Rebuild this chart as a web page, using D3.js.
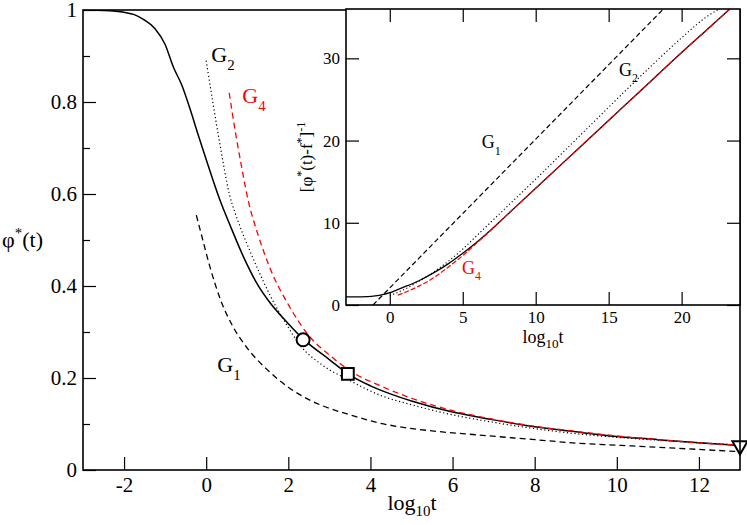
<!DOCTYPE html>
<html>
<head>
<meta charset="utf-8">
<script src="https://cdn.jsdelivr.net/npm/d3@7"></script>
<style>
  body { margin: 0; background: #fff; }
  svg { display: block; }
  svg text { font-family: "Liberation Serif", "Times New Roman", Times, "Nimbus Roman", "DejaVu Serif", serif; }
</style>
</head>
<body>
<svg id="chart" width="747" height="525"></svg>
<script>
var SERIF = '"Liberation Serif", "Times New Roman", Times, "Nimbus Roman", "DejaVu Serif", serif';

// main panel: phi*(t) vs log10 t
var mainXTicks = [-2, 0, 2, 4, 6, 8, 10, 12];
var mainXLabels = ['-2', '0', '2', '4', '6', '8', '10', '12'];
var mainYTicks = [0, 0.2, 0.4, 0.6, 0.8, 1];
var mainYLabels = ['0', '0.2', '0.4', '0.6', '0.8', '1'];
var mainYMinor = [0.1, 0.3, 0.5, 0.7, 0.9];

var phiMain = [[-3, 1.0], [-2.5, 0.999], [-2, 0.995], [-1.75, 0.99], [-1.5, 0.978],
  [-1.25, 0.96], [-1, 0.925], [-0.8, 0.876], [-0.6, 0.838], [-0.4, 0.787],
  [-0.2, 0.73], [0, 0.675], [0.33, 0.588], [0.6, 0.528], [0.9, 0.465],
  [1.22, 0.408], [1.5, 0.37], [2, 0.318], [2.36, 0.285], [3, 0.24],
  [3.45, 0.209], [4, 0.183], [4.5, 0.165], [5, 0.150], [6, 0.126],
  [7, 0.109], [8, 0.094], [9, 0.083], [10, 0.073], [11, 0.066],
  [12, 0.059], [13, 0.053]];
var g1Main = [[-0.24, 0.554], [-0.1, 0.506], [0.09, 0.442], [0.35, 0.37],
  [0.65, 0.312], [1.0, 0.265], [1.5, 0.217], [2, 0.18], [2.5, 0.153],
  [3, 0.134], [3.5, 0.12], [4.22, 0.102], [4.7, 0.094], [5.5, 0.085],
  [6.65, 0.076], [8, 0.066], [9.08, 0.058], [10, 0.054], [11.5, 0.047],
  [13, 0.040]];
var g2Main = [[0, 0.89], [0.17, 0.795], [0.37, 0.69], [0.45, 0.65], [0.57, 0.598],
  [0.7, 0.56], [0.8, 0.535], [1.0, 0.49], [1.3, 0.428], [1.6, 0.372],
  [2.0, 0.31], [2.28, 0.272], [2.8, 0.23], [3.49, 0.195], [4.22, 0.163],
  [5, 0.142], [6, 0.12], [6.65, 0.109], [8, 0.09], [9, 0.079], [10, 0.071],
  [11.5, 0.062], [13, 0.054]];
var g4Main = [[0.56, 0.82], [0.73, 0.725], [0.85, 0.665], [1.02, 0.587],
  [1.25, 0.515], [1.54, 0.442], [2.03, 0.355], [2.52, 0.29], [3.0, 0.25],
  [3.57, 0.212], [4.22, 0.184], [5, 0.156], [6, 0.129], [7, 0.110],
  [8, 0.095], [9, 0.084], [10, 0.074], [11, 0.066], [12, 0.059], [13, 0.054]];
var circlePt = [2.36, 0.283];
var squarePt = [3.45, 0.209];
var trianglePt = [13, 0.053];

// inset: [phi*(t)-f*]^-1 vs log10 t
var insXTicks = [0, 5, 10, 15, 20];
var insYTicks = [0, 10, 20, 30];

var invMain = [[-3, 1.0], [-2, 1.0], [-1.5, 1.02], [-1, 1.1], [-0.5, 1.25],
  [0, 1.5], [0.5, 1.85], [1, 2.2], [2, 2.95], [3, 3.9], [4, 5.0], [5, 6.3],
  [6, 7.7], [7, 9.25], [8, 10.9], [10, 14.2], [12, 17.5], [14, 20.8],
  [16, 24.1], [18, 27.4], [20, 30.7], [22, 33.9], [23.3, 36]];
var invG1 = [[-1.15, 0], [18.75, 36]];
var invG2 = [[0, 1.15], [1, 1.9], [2, 2.9], [3, 4.0], [4, 5.3], [5, 6.8],
  [6, 8.5], [7, 10.2], [8, 11.9], [10, 15.3], [12, 18.8], [14, 22.3],
  [16, 25.8], [18, 29.2], [20, 32.5], [22, 35.4], [22.6, 36]];
var invG4 = [[0.55, 1.2], [1, 1.5], [2, 2.3], [3, 3.3], [4, 4.6], [5, 6.0],
  [6, 7.6], [7, 9.2], [8, 10.9], [10, 14.2], [12, 17.5], [14, 20.8],
  [16, 24.1], [18, 27.4], [20, 30.7], [22, 33.9], [23.3, 36]];

var svg = d3.select('#chart');

var x = d3.scaleLinear().domain([-3, 13]).range([83, 740]);
var y = d3.scaleLinear().domain([0, 1]).range([470, 10]);
var ix = d3.scaleLinear().domain([-3, 24]).range([346, 740]);
var iy = d3.scaleLinear().domain([0, 36]).range([305, 9]);

function styleAxis(g, size) {
  g.attr('font-family', SERIF);
  g.select('.domain').remove();
  g.selectAll('.tick line').attr('stroke', '#000').attr('stroke-width', 1.2);
  g.selectAll('.tick text')
      .attr('fill', '#000')
      .attr('font-size', size)
      .attr('font-family', SERIF);
}

svg.append('clipPath').attr('id', 'clipMain')
    .append('rect').attr('x', 83).attr('y', 10).attr('width', 657).attr('height', 460);
svg.append('clipPath').attr('id', 'clipIns')
    .append('rect').attr('x', 346).attr('y', 9).attr('width', 394).attr('height', 296);

// main axes
svg.append('g').attr('transform', 'translate(0,470)')
    .call(d3.axisBottom(x).tickValues(mainXTicks).tickSize(-13).tickSizeOuter(0)
        .tickPadding(7).tickFormat(function(d, i) { return mainXLabels[i]; }))
    .call(styleAxis, 21);
svg.append('g').attr('transform', 'translate(83,0)')
    .call(d3.axisLeft(y).tickValues(mainYTicks).tickSize(-13).tickSizeOuter(0)
        .tickPadding(6).tickFormat(function(d, i) { return mainYLabels[i]; }))
    .call(styleAxis, 21);
svg.append('g').attr('transform', 'translate(83,0)')
    .call(d3.axisLeft(y).tickValues(mainYMinor).tickSize(-7).tickSizeOuter(0)
        .tickFormat(''))
    .call(styleAxis, 21);

var line = function(sx, sy) {
  return d3.line()
      .x(function(d) { return sx(d[0]); })
      .y(function(d) { return sy(d[1]); })
      .curve(d3.curveMonotoneX);
};
var mainLine = line(x, y);
var insLine = line(ix, iy);

var mainG = svg.append('g').attr('clip-path', 'url(#clipMain)');
mainG.append('path').datum(g1Main).attr('d', mainLine)
    .attr('fill', 'none').attr('stroke', '#000').attr('stroke-width', 1.3)
    .attr('stroke-dasharray', '6,4');
mainG.append('path').datum(g2Main).attr('d', mainLine)
    .attr('fill', 'none').attr('stroke', '#000').attr('stroke-width', 1.2)
    .attr('stroke-dasharray', '1.2,2.6');
mainG.append('path').datum(phiMain).attr('d', mainLine)
    .attr('fill', 'none').attr('stroke', '#000').attr('stroke-width', 1.5);
mainG.append('path').datum(g4Main).attr('d', mainLine)
    .attr('fill', 'none').attr('stroke', '#ff0000').attr('stroke-width', 1.3)
    .attr('stroke-dasharray', '6,4');

// markers
svg.append('circle')
    .attr('cx', x(circlePt[0])).attr('cy', y(circlePt[1])).attr('r', 6.5)
    .attr('fill', '#fff').attr('stroke', '#000').attr('stroke-width', 2);
svg.append('path')
    .attr('d', d3.symbol().type(d3.symbolSquare).size(140)())
    .attr('transform', 'translate(' + x(squarePt[0]) + ',' + y(squarePt[1]) + ')')
    .attr('fill', '#fff').attr('stroke', '#000').attr('stroke-width', 2);
svg.append('path')
    .attr('d', d3.symbol().type(d3.symbolTriangle).size(100)())
    .attr('transform', 'translate(' + x(trianglePt[0]) + ',' + y(trianglePt[1]) + ') rotate(180)')
    .attr('fill', '#fff').attr('stroke', '#000').attr('stroke-width', 2);

// main frame
svg.append('rect').attr('x', 83).attr('y', 10).attr('width', 657).attr('height', 460)
    .attr('fill', 'none').attr('stroke', '#000').attr('stroke-width', 1.6);

// labels for the main panel
function gLabel(px, py, sub, color, size, subSize) {
  var t = svg.append('text').attr('x', px).attr('y', py)
      .attr('fill', color).attr('font-size', size).attr('font-family', SERIF);
  t.append('tspan').text('G');
  t.append('tspan').attr('dy', size * 0.35).attr('font-size', subSize).text(sub);
}
gLabel(x(0.125), y(0.887), '2', '#000', 22, 15);
gLabel(x(0.88), y(0.798), '4', '#ff0000', 22, 15);
gLabel(x(0.27), y(0.213), '1', '#000', 22, 15);

var xl = svg.append('text').attr('x', 412).attr('y', 510)
    .attr('text-anchor', 'middle').attr('font-size', 22).attr('font-family', SERIF);
xl.append('tspan').text('log');
xl.append('tspan').attr('dy', 6).attr('font-size', 15).text('10');
xl.append('tspan').attr('dy', -6).text('t');

var yl = svg.append('text').attr('x', 2).attr('y', 247)
    .attr('font-size', 22).attr('font-family', SERIF);
yl.append('tspan').text('φ');
yl.append('tspan').attr('dy', -9).attr('font-size', 15).text('*');
yl.append('tspan').attr('dy', 9).text('(t)');

// inset
svg.append('rect').attr('x', 346).attr('y', 9).attr('width', 394).attr('height', 296)
    .attr('fill', '#fff');

svg.append('g').attr('transform', 'translate(0,305)')
    .call(d3.axisBottom(ix).tickValues(insXTicks).tickSize(-13).tickSizeOuter(0)
        .tickPadding(6).tickFormat(d3.format('d')))
    .call(styleAxis, 17);
svg.append('g').attr('transform', 'translate(0,9)')
    .call(d3.axisTop(ix).tickValues(insXTicks).tickSize(-13).tickSizeOuter(0)
        .tickFormat(''))
    .call(styleAxis, 17);
svg.append('g').attr('transform', 'translate(346,0)')
    .call(d3.axisLeft(iy).tickValues(insYTicks).tickSize(-13).tickSizeOuter(0)
        .tickPadding(6).tickFormat(d3.format('d')))
    .call(styleAxis, 17);
svg.append('g').attr('transform', 'translate(740,0)')
    .call(d3.axisRight(iy).tickValues(insYTicks).tickSize(-13).tickSizeOuter(0)
        .tickFormat(''))
    .call(styleAxis, 17);

var insG = svg.append('g').attr('clip-path', 'url(#clipIns)');
insG.append('path').datum(invG1).attr('d', insLine)
    .attr('fill', 'none').attr('stroke', '#000').attr('stroke-width', 1.2)
    .attr('stroke-dasharray', '5,3');
insG.append('path').datum(invG2).attr('d', insLine)
    .attr('fill', 'none').attr('stroke', '#000').attr('stroke-width', 1.1)
    .attr('stroke-dasharray', '1.2,2.4');
insG.append('path').datum(invMain).attr('d', insLine)
    .attr('fill', 'none').attr('stroke', '#000').attr('stroke-width', 1.3);
insG.append('path').datum(invG4).attr('d', insLine)
    .attr('fill', 'none').attr('stroke', '#ff0000').attr('stroke-width', 1.2)
    .attr('stroke-dasharray', '5,2');

svg.append('rect').attr('x', 346).attr('y', 9).attr('width', 394).attr('height', 296)
    .attr('fill', 'none').attr('stroke', '#000').attr('stroke-width', 1.6);

gLabel(ix(6.3), iy(19.06), '1', '#000', 18, 12);
gLabel(ix(15.7), iy(27.9), '2', '#000', 18, 12);
gLabel(ix(4.95), iy(3.77), '4', '#ff0000', 18, 12);

var ixl = svg.append('text').attr('x', 543).attr('y', 343)
    .attr('text-anchor', 'middle').attr('font-size', 18).attr('font-family', SERIF);
ixl.append('tspan').text('log');
ixl.append('tspan').attr('dy', 5).attr('font-size', 13).text('10');
ixl.append('tspan').attr('dy', -5).text('t');

var iyl = svg.append('text')
    .attr('transform', 'translate(312,157) rotate(-90)')
    .attr('text-anchor', 'middle').attr('font-size', 17).attr('font-family', SERIF);
iyl.append('tspan').text('[φ');
iyl.append('tspan').attr('dy', -7).attr('font-size', 12).text('*');
iyl.append('tspan').attr('dy', 7).text('(t)-f');
iyl.append('tspan').attr('dy', -7).attr('font-size', 12).text('*');
iyl.append('tspan').attr('dy', 7).text(']');
iyl.append('tspan').attr('dy', -7).attr('font-size', 12).text('-1');
</script>
</body>
</html>
